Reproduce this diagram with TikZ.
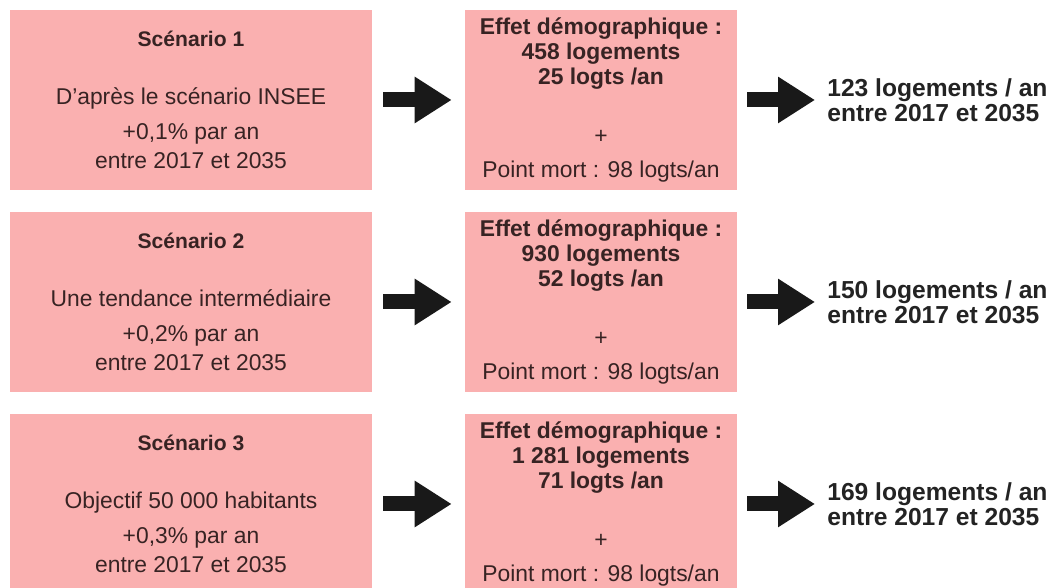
\documentclass[tikz,border=0pt]{standalone}
\usepackage{fontspec}
\setmainfont{Liberation Sans}
\usetikzlibrary{arrows.meta}

\definecolor{boxpink}{RGB}{250,176,176}
\definecolor{boxtext}{RGB}{55,35,35}
\definecolor{arrowblack}{RGB}{25,25,25}
\definecolor{restext}{RGB}{35,35,35}

\tikzset{
  scenbox/.style={fill=boxpink, text=boxtext, minimum width=7.24cm, minimum height=3.6cm,
    align=center, inner sep=0pt, font=\fontsize{13}{14.2}\selectfont},
  effbox/.style={fill=boxpink, text=boxtext, minimum width=5.44cm, minimum height=3.6cm,
    align=center, inner sep=0pt, font=\fontsize{13}{14.2}\selectfont},
  result/.style={anchor=west, inner sep=0pt, align=left, text=restext,
    font=\fontsize{14}{14.2}\selectfont\bfseries},
  fatarrow/.style={arrowblack, line width=0.3cm, -{Triangle[length=0.74cm,width=0.88cm]}}
}

\begin{document}
\begin{tikzpicture}
    \useasboundingbox (0, 0) rectangle (21.18, 11.76);

    % scenario 1
    \node[scenbox] (sc1) at (3.82, 9.76) {{\fontsize{12}{14.2}\selectfont\bfseries Scénario 1}\\[18.7pt]
      D’après le scénario INSEE\\[5.6pt] +0,1\% par an\\[2.2pt] entre 2017 et 2035};
    \node[effbox] (de1) at (12.02, 9.76) {\bfseries Effet démographique :\\ \bfseries 458 logements\\
      \bfseries 25 logts /an\\[19.8pt] +\\[5.1pt] Point mort : 98 logts/an};
    \node[result] (res1) at (16.54, 9.76) {123 logements / an\\ entre 2017 et 2035};
    \draw[fatarrow, shorten <=0.22cm, shorten >=0.26cm] (sc1) -- (de1);
    \draw[fatarrow, shorten <=0.2cm, shorten >=0.24cm] (de1) -- (de1 -| res1.west);

    % scenario 2
    \node[scenbox] (sc2) at (3.82, 5.72) {{\fontsize{12}{14.2}\selectfont\bfseries Scénario 2}\\[18.7pt]
      Une tendance intermédiaire\\[5.6pt] +0,2\% par an\\[2.2pt] entre 2017 et 2035};
    \node[effbox] (de2) at (12.02, 5.72) {\bfseries Effet démographique :\\ \bfseries 930 logements\\
      \bfseries 52 logts /an\\[19.8pt] +\\[5.1pt] Point mort : 98 logts/an};
    \node[result] (res2) at (16.54, 5.72) {150 logements / an\\ entre 2017 et 2035};
    \draw[fatarrow, shorten <=0.22cm, shorten >=0.26cm] (sc2) -- (de2);
    \draw[fatarrow, shorten <=0.2cm, shorten >=0.24cm] (de2) -- (de2 -| res2.west);

    % scenario 3
    \node[scenbox] (sc3) at (3.82, 1.68) {{\fontsize{12}{14.2}\selectfont\bfseries Scénario 3}\\[18.7pt]
      Objectif 50 000 habitants\\[5.6pt] +0,3\% par an\\[2.2pt] entre 2017 et 2035};
    \node[effbox] (de3) at (12.02, 1.68) {\bfseries Effet démographique :\\ \bfseries 1 281 logements\\
      \bfseries 71 logts /an\\[19.8pt] +\\[5.1pt] Point mort : 98 logts/an};
    \node[result] (res3) at (16.54, 1.68) {169 logements / an\\ entre 2017 et 2035};
    \draw[fatarrow, shorten <=0.22cm, shorten >=0.26cm] (sc3) -- (de3);
    \draw[fatarrow, shorten <=0.2cm, shorten >=0.24cm] (de3) -- (de3 -| res3.west);
\end{tikzpicture}
\end{document}
